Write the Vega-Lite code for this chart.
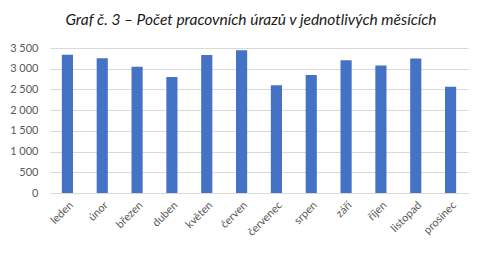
{
  "$schema": "https://vega.github.io/schema/vega-lite/v6.json",
  "width": 418,
  "height": 145,
  "autosize": {"type": "none"},
  "padding": {"left": 50, "top": 48, "right": 21, "bottom": 61},
  "background": "white",
  "title": {
    "text": "Graf č. 3 – Počet pracovních úrazů v jednotlivých měsících",
    "font": "Lato",
    "fontSize": 15.5,
    "fontStyle": "italic",
    "fontWeight": "normal",
    "color": "#1a1a1a",
    "anchor": "middle",
    "dx": -8,
    "offset": 14
  },
  "data": {
    "values": [
      {"mesic": "leden", "pocet": 3340},
      {"mesic": "únor", "pocet": 3250},
      {"mesic": "březen", "pocet": 3050},
      {"mesic": "duben", "pocet": 2800},
      {"mesic": "květen", "pocet": 3330},
      {"mesic": "červen", "pocet": 3445},
      {"mesic": "červenec", "pocet": 2600},
      {"mesic": "srpen", "pocet": 2850},
      {"mesic": "září", "pocet": 3205},
      {"mesic": "říjen", "pocet": 3075},
      {"mesic": "listopad", "pocet": 3245},
      {"mesic": "prosinec", "pocet": 2565}
    ]
  },
  "mark": {"type": "bar", "color": "#4472C4"},
  "encoding": {
    "x": {
      "field": "mesic",
      "type": "nominal",
      "sort": null,
      "scale": {"paddingInner": 0.68, "paddingOuter": 0.34},
      "axis": {
        "title": null,
        "labelAngle": -45,
        "labelFont": "Lato",
        "labelFontSize": 11,
        "labelColor": "#595959",
        "domainColor": "#d9d9d9",
        "ticks": false,
        "labelPadding": 6
      }
    },
    "y": {
      "field": "pocet",
      "type": "quantitative",
      "scale": {"domain": [0, 3500]},
      "axis": {
        "title": null,
        "values": [0, 500, 1000, 1500, 2000, 2500, 3000, 3500],
        "labelExpr": "replace(format(datum.value, ','), ',', ' ')",
        "labelFont": "Lato",
        "labelFontSize": 11,
        "labelColor": "#595959",
        "domain": false,
        "ticks": false,
        "labelPadding": 12,
        "gridColor": "#d9d9d9"
      }
    }
  },
  "config": {"view": {"stroke": null}}
}
